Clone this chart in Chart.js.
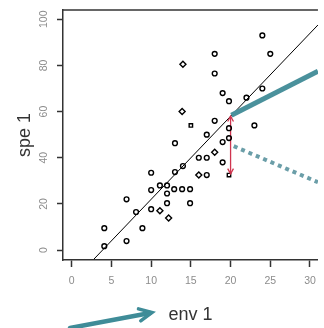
<!DOCTYPE html>
<html>
<head>
<meta charset="utf-8">
<script src="https://cdn.jsdelivr.net/npm/chart.js@4.4.1/dist/chart.umd.min.js"></script>
<style>
  html, body { margin: 0; padding: 0; background: #fff; }
  #wrap { width: 324px; height: 328px; }
</style>
</head>
<body>
<div id="wrap"><canvas id="envChart"></canvas></div>
<script>
// tick labels
const xTicks = [0, 5, 10, 15, 20, 25, 30];
const yTicks = [0, 20, 40, 60, 80, 100];

// observations: env 1 vs spe 1
const envX = [4.1, 4.1, 6.9, 6.9, 8.1, 8.9, 10, 10, 10, 11.1, 11.1, 12, 12, 12.9, 13.9, 14.9,
  12, 14.9, 12.2, 13, 14, 16, 17, 18, 16, 17, 19.8, 19, 19, 19.8, 19.8, 13, 17, 15, 18,
  13.9, 19.8, 19, 18, 18, 14, 24, 25, 24, 22, 23];
const speY = [1.7, 9.5, 3.9, 22, 16.5, 9.5, 17.7, 26, 33.5, 17, 28, 28, 24.5, 26.4, 26.4, 26.4,
  20.3, 20.3, 13.9, 33.8, 36.4, 40, 40, 42.4, 32.5, 32.5, 32.5, 38, 46.8, 48.5, 52.8, 46.3, 50, 54, 56,
  60, 64.5, 68, 76.5, 85, 80.5, 93, 85, 70, 66, 54];
const shapes = ['circle', 'circle', 'circle', 'circle', 'circle', 'circle', 'circle', 'circle', 'circle', 'rectRot', 'circle', 'circle', 'circle', 'circle', 'circle', 'circle',
  'circle', 'circle', 'rectRot', 'circle', 'circle', 'circle', 'circle', 'rectRot', 'rectRot', 'circle', 'rect', 'circle', 'circle', 'circle', 'circle', 'circle', 'circle', 'rect', 'circle',
  'rectRot', 'circle', 'circle', 'circle', 'circle', 'rectRot', 'circle', 'circle', 'circle', 'circle', 'circle'];

// fitted line and the arrows drawn on the plot
const fitX = [2.8, 31];
const fitY = [-3.9, 97.5];
const residX = [20, 20];
const residY = [33, 58];
const solidX = [20.1, 31];
const solidY = [58.4, 77.5];
const dottedX = [20.4, 31];
const dottedY = [45, 29.4];

const pts = (xs, ys) => xs.map((x, i) => ({ x, y: ys[i] }));

function vHead(ctx, x, y, ang, len, spread) {
  ctx.beginPath();
  ctx.moveTo(x - len * Math.cos(ang - spread), y - len * Math.sin(ang - spread));
  ctx.lineTo(x, y);
  ctx.lineTo(x - len * Math.cos(ang + spread), y - len * Math.sin(ang + spread));
  ctx.stroke();
}

const extras = {
  id: 'extras',
  afterDraw(chart) {
    const { ctx, chartArea: a, scales: { x, y } } = chart;
    ctx.save();
    // top frame line
    ctx.strokeStyle = '#333';
    ctx.lineWidth = 1.5;
    ctx.beginPath();
    ctx.moveTo(a.left, a.top);
    ctx.lineTo(a.right, a.top);
    ctx.stroke();

    // rotated y tick labels
    ctx.fillStyle = '#8c8c8c';
    ctx.font = '10.5px "Liberation Sans", Arial, sans-serif';
    ctx.textAlign = 'center';
    ctx.textBaseline = 'middle';
    yTicks.forEach(v => {
      ctx.save();
      ctx.translate(a.left - 19, y.getPixelForValue(v));
      ctx.rotate(-Math.PI / 2);
      ctx.fillText(String(v), 0, 0);
      ctx.restore();
    });

    // red arrow heads
    ctx.strokeStyle = '#d0344f';
    ctx.lineWidth = 1.3;
    const rx = x.getPixelForValue(residX[0]);
    vHead(ctx, rx, y.getPixelForValue(residY[1]), -Math.PI / 2, 6, 0.5);
    vHead(ctx, rx, y.getPixelForValue(residY[0]), Math.PI / 2, 6, 0.5);

    // arrow under the axis pointing to env 1
    ctx.strokeStyle = '#3f8c98';
    ctx.lineWidth = 4.5;
    ctx.lineCap = 'round';
    ctx.beginPath();
    ctx.moveTo(70, 328);
    ctx.lineTo(150, 313);
    ctx.stroke();
    ctx.lineWidth = 3.5;
    vHead(ctx, 152, 312.5, Math.atan2(-15, 80), 14, 0.45);
    ctx.restore();
  }
};

new Chart(document.getElementById('envChart'), {
  type: 'scatter',
  data: {
    datasets: [
      {
        data: pts(fitX, fitY), showLine: true, pointRadius: 0,
        borderColor: '#000', borderWidth: 1, order: 3
      },
      {
        data: pts(solidX, solidY), showLine: true, pointRadius: 0,
        borderColor: '#4a919c', borderWidth: 5, order: 2
      },
      {
        data: pts(dottedX, dottedY), showLine: true, pointRadius: 0,
        borderColor: '#6b9ea8', borderWidth: 4, borderDash: [4, 4], order: 2
      },
      {
        data: pts(residX, residY), showLine: true, pointRadius: 0,
        borderColor: '#d0344f', borderWidth: 1.3, order: 1
      },
      {
        data: pts(envX, speY), pointStyle: shapes,
        pointRadius: shapes.map(s => s === 'rectRot' ? 3 : 2.4),
        borderColor: '#000', backgroundColor: 'rgba(255,255,255,0)',
        borderWidth: 1.4, order: 0
      }
    ]
  },
  options: {
    responsive: true,
    maintainAspectRatio: false,
    animation: false,
    layout: { padding: { top: 10, right: 0, left: 0, bottom: 0 } },
    plugins: { legend: { display: false }, tooltip: { enabled: false } },
    scales: {
      x: {
        type: 'linear', min: -1.1, max: 31,
        afterBuildTicks: s => { s.ticks = xTicks.map(v => ({ value: v })); },
        afterFit: s => { s.height = 68; },
        grid: { drawOnChartArea: false, tickLength: 7, tickColor: '#333', tickWidth: 1.5 },
        border: { color: '#333', width: 1.5 },
        ticks: {
          color: '#8c8c8c', padding: 8, maxRotation: 0, autoSkip: false,
          font: { family: '"Liberation Sans", Arial, sans-serif', size: 10.5 }
        },
        title: {
          display: true, text: 'env 1', color: '#333',
          font: { family: '"Liberation Sans", Arial, sans-serif', size: 18 },
          padding: { top: 0, bottom: 2 }
        }
      },
      y: {
        type: 'linear', min: -4.3, max: 104,
        afterBuildTicks: s => { s.ticks = yTicks.map(v => ({ value: v })); },
        afterFit: s => { s.width = 63; },
        grid: { drawOnChartArea: false, tickLength: 6, tickColor: '#333', tickWidth: 1.5 },
        border: { color: '#333', width: 1.5 },
        ticks: { display: false },
        title: {
          display: true, text: 'spe 1', color: '#333',
          font: { family: '"Liberation Sans", Arial, sans-serif', size: 18 },
          padding: { top: 14, bottom: 0 }
        }
      }
    }
  },
  plugins: [extras]
});
</script>
</body>
</html>
